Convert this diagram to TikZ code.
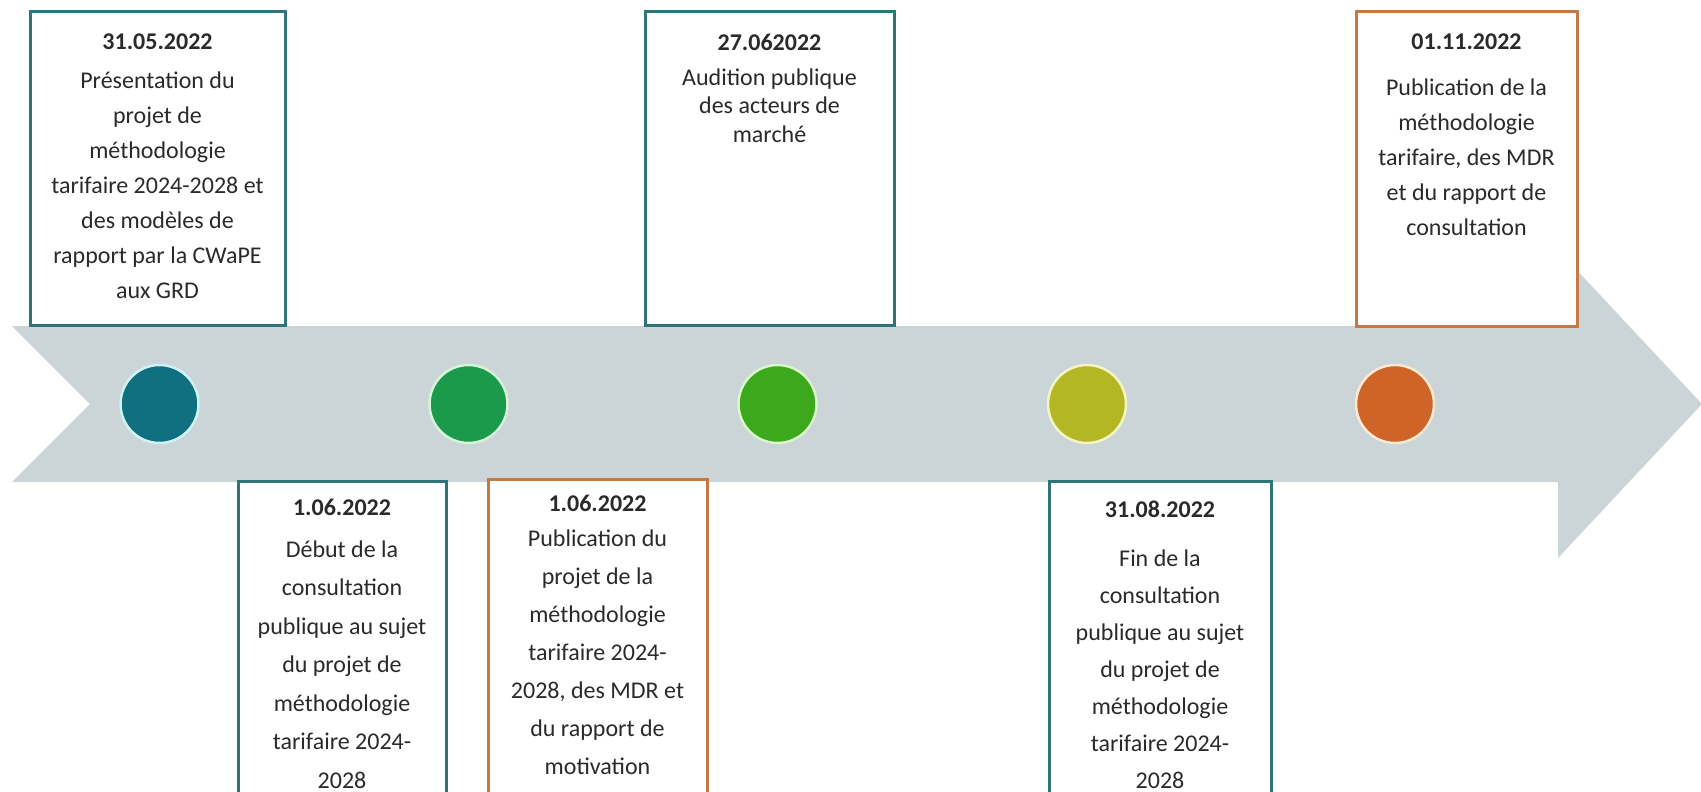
\documentclass[tikz,border=0pt]{standalone}
\usepackage{fontspec}
\setmainfont{Carlito}
\definecolor{band}{HTML}{CBD4D6}
\definecolor{tealline}{HTML}{2F7477}
\definecolor{orangeline}{HTML}{C57A45}
\definecolor{txt}{HTML}{2A2A2A}
\definecolor{cA}{HTML}{106F80}
\definecolor{cB}{HTML}{1C9A4B}
\definecolor{cC}{HTML}{3CA81C}
\definecolor{cD}{HTML}{B3B724}
\definecolor{cE}{HTML}{CF6428}
\definecolor{oA}{HTML}{CFF3F3}
\definecolor{oB}{HTML}{D6F5D8}
\definecolor{oC}{HTML}{D8F7CB}
\definecolor{oD}{HTML}{F4F4C4}
\definecolor{oE}{HTML}{FBE9D4}
\newcommand{\topstrut}{\rule{0pt}{18pt}}
\tikzset{
  evbox/.style={draw=#1, line width=3pt, fill=white, inner sep=0pt, rectangle},
  datetxt/.style={anchor=base, inner sep=0pt, text=txt, font=\fontsize{24}{29}\selectfont\bfseries},
  bodytxt/.style={anchor=north, inner sep=0pt, text=txt, align=center, font=\fontsize{24}{#1}\selectfont},
  dot/.style={circle, minimum size=78pt, inner sep=0pt, line width=2.5pt}
}
\begin{document}
\begin{tikzpicture}[x=1pt, y=-1pt]
\clip (0,0) rectangle (1701,792);
\fill[white] (0,0) rectangle (1701,792);
% band arrow
\fill[band] (12,326) -- (1558,326) -- (1558,250) -- (1702,404) -- (1558,558) -- (1558,482) -- (12,482) -- (90,404) -- cycle;
% milestones
\node[dot, fill=cA, draw=oA] (m1) at (159.5,404) {};
\node[dot, fill=cB, draw=oB] (m2) at (468.5,404) {};
\node[dot, fill=cC, draw=oC] (m3) at (777.5,404) {};
\node[dot, fill=cD, draw=oD] (m4) at (1087,404) {};
\node[dot, fill=cE, draw=oE] (m5) at (1395,404) {};
% top boxes
\node[evbox=tealline, minimum width=255pt, minimum height=313pt] (b1) at (157.5,168.5) {};
\node[evbox=tealline, minimum width=249pt, minimum height=313pt] (b3) at (769.5,168.5) {};
\node[evbox=orangeline, minimum width=221pt, minimum height=314pt] (b6) at (1466.5,169) {};
% bottom boxes
\node[evbox=tealline, minimum width=208pt, minimum height=330pt] (b2) at (342,646) {};
\node[evbox=orangeline, minimum width=219pt, minimum height=332pt] (b4) at (597.5,645) {};
\node[evbox=tealline, minimum width=222pt, minimum height=330pt] (b5) at (1160,646) {};
% texts box 1
\node[datetxt] (d1) at (157.5,50) {31.05.2022};
\node[bodytxt=35] (t1) at (157.5,70) {\topstrut Présentation du\\projet de\\méthodologie\\tarifaire 2024-2028 et\\des modèles de\\rapport par la CWaPE\\aux GRD};
% box 3
\node[datetxt] (d3) at (769.5,51) {27.062022};
\node[bodytxt=28.5] (t3) at (769.5,67) {\topstrut Audition publique\\des acteurs de\\marché};
% box 6
\node[datetxt] (d6) at (1466.5,50) {01.11.2022};
\node[bodytxt=35] (t6) at (1466.5,77) {\topstrut Publication de la\\méthodologie\\tarifaire, des MDR\\et du rapport de\\consultation};
% box 2
\node[datetxt] (d2) at (342,515) {1.06.2022};
\node[bodytxt=38.5] (t2) at (342,539) {\topstrut Début de la\\consultation\\publique au sujet\\du projet de\\méthodologie\\tarifaire 2024-\\2028};
% box 4
\node[datetxt] (d4) at (597.5,511) {1.06.2022};
\node[bodytxt=38] (t4) at (597.5,528) {\topstrut Publication du\\projet de la\\méthodologie\\tarifaire 2024-\\2028, des MDR et\\du rapport de\\motivation};
% box 5
\node[datetxt] (d5) at (1160,517) {31.08.2022};
\node[bodytxt=37] (t5) at (1160,548) {\topstrut Fin de la\\consultation\\publique au sujet\\du projet de\\méthodologie\\tarifaire 2024-\\2028};
\end{tikzpicture}
\end{document}
